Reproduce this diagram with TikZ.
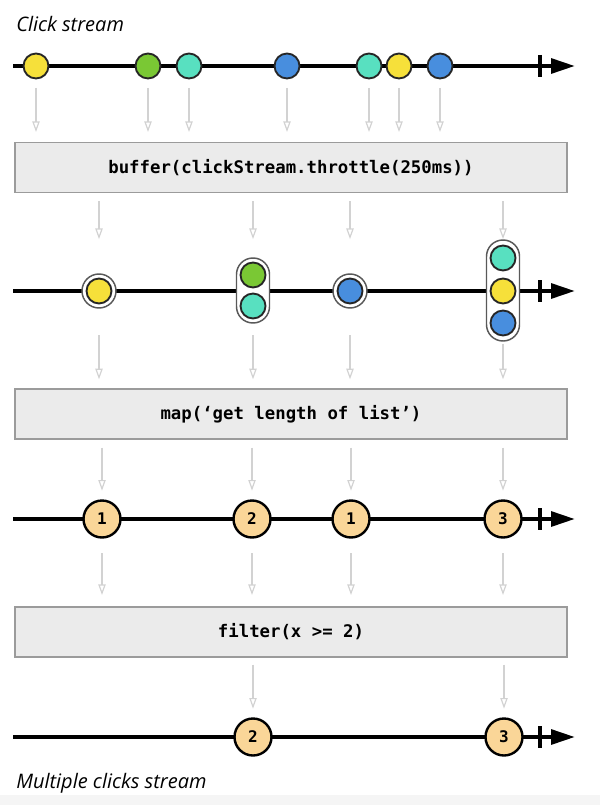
\documentclass[tikz,border=0pt]{standalone}
\usepackage{fontspec}
\newfontfamily\monofont{DejaVu Sans Mono}
\newfontfamily\labelfont{Open Sans}
\usetikzlibrary{arrows.meta}

\definecolor{clickyellow}{RGB}{246,224,58}
\definecolor{clickgreen}{RGB}{122,200,52}
\definecolor{clickteal}{RGB}{88,224,192}
\definecolor{clickblue}{RGB}{72,142,222}
\definecolor{countfill}{RGB}{250,214,152}
\definecolor{opfill}{RGB}{235,235,235}
\definecolor{opdraw}{RGB}{155,155,155}
\definecolor{flowgray}{RGB}{210,210,210}

\tikzset{
  timeline/.style={line width=3pt, -{Triangle[length=18pt,width=11pt]}},
  tick/.style={line width=3pt},
  click/.style={circle, draw=black!85, line width=1.4pt, minimum size=18.75pt, inner sep=0pt},
  ring/.style={circle, draw=black!65, line width=1.1pt, fill=white, minimum size=25.5pt, inner sep=0pt},
  capsule/.style={rectangle, rounded corners=12.3pt, draw=black!65, line width=1.1pt, fill=white,
    minimum width=24.75pt, inner sep=0pt},
  count/.style={circle, draw=black, line width=1.8pt, fill=countfill, minimum size=27.75pt, inner sep=0pt,
    font=\monofont\bfseries\fontsize{12}{14}\selectfont},
  opbox/.style={rectangle, draw=opdraw, line width=1pt, fill=opfill, minimum width=414pt,
    minimum height=37.5pt, inner sep=0pt, font=\monofont\bfseries\fontsize{13}{15}\selectfont},
  flow/.style={draw=flowgray, line width=0.9pt, -{Triangle[open,length=8pt,width=5.5pt]}},
  caption/.style={anchor=base west, inner sep=0pt, font=\labelfont\itshape\fontsize{15}{18}\selectfont},
}

% one stream line with its end tick
\newcommand{\stream}[2]{%
  \coordinate (#1start) at (13,#2);
  \coordinate (#1end) at (575,#2);
  \draw[timeline] (#1start) -- (#1end);
  \draw[tick] (540,#2-11) -- (540,#2+11);
}

\begin{document}
\begin{tikzpicture}[x=0.75pt,y=0.75pt,yscale=-1,xscale=1]
\useasboundingbox (0,0) rectangle (600,805);
\fill[black!4] (0,795) rectangle (600,805);

% Text Node
\node[caption] (title) at (16,32) {Click stream};

%Click stream
\stream{r1}{66}
\node[click, fill=clickyellow] (c1) at (36,66) {};
\node[click, fill=clickgreen]  (c2) at (148,66) {};
\node[click, fill=clickteal]   (c3) at (189,66) {};
\node[click, fill=clickblue]   (c4) at (287,66) {};
\node[click, fill=clickteal]   (c5) at (369,66) {};
\node[click, fill=clickyellow] (c6) at (399,66) {};
\node[click, fill=clickblue]   (c7) at (440,66) {};

%buffer box
\node[opbox] (buffer) at (291,167.5) {buffer(clickStream.throttle(250ms))};
\foreach \n in {1,...,7}
  \draw[flow] (c\n.center) ++(0,22) -- ++(0,44);

%buffered stream
\stream{r2}{291}
\node[ring] (s1) at (99,291) {};
\node[click, fill=clickyellow] at (s1) {};
\node[capsule, minimum height=48.75pt] (s2) at (253,290.5) {};
\node[click, fill=clickgreen] at (253,275) {};
\node[click, fill=clickteal]  at (253,306) {};
\node[ring] (s3) at (350,291) {};
\node[click, fill=clickblue] at (s3) {};
\node[capsule, minimum height=75.75pt] (s4) at (503,290.5) {};
\node[click, fill=clickteal]   at (503,258) {};
\node[click, fill=clickyellow] at (503,291) {};
\node[click, fill=clickblue]   at (503,323) {};
\foreach \n in {s1,s2,s3,s4}
  \draw[flow] (buffer.south -| \n) ++(0,8) -- ++(0,38);

%map box
\node[opbox] (map) at (291,414) {map(‘get length of list’)};
\foreach \n in {s1,s2,s3}
  \draw[flow] (map.north -| \n) ++(0,-53) -- ++(0,44);
\draw[flow] ([yshift=1.5pt]s4.south) -- ([yshift=-6.75pt]map.north -| s4);

%counted stream
\stream{r3}{519}
\node[count] (n1) at (102,519) {1};
\node[count] (n2) at (252,519) {2};
\node[count] (n3) at (351,519) {1};
\node[count] (n4) at (503,519) {3};
\foreach \n in {n1,n2,n3,n4}
  \draw[flow] (map.south -| \n) ++(0,8) -- ++(0,43);

%filter box
\node[opbox] (filter) at (291,632) {filter(x >= 2)};
\foreach \n in {n1,n2,n3,n4}
  \draw[flow] (\n.center) ++(0,34) -- ++(0,42);

%multiple clicks stream
\stream{r4}{737}
\node[count] (m1) at (253,737) {2};
\node[count] (m2) at (504,737) {3};
\foreach \n in {m1,m2}
  \draw[flow] (filter.south -| \n) ++(0,7) -- ++(0,44);

% Text Node
\node[caption] (subtitle) at (16,788) {Multiple clicks stream};

\end{tikzpicture}
\end{document}
